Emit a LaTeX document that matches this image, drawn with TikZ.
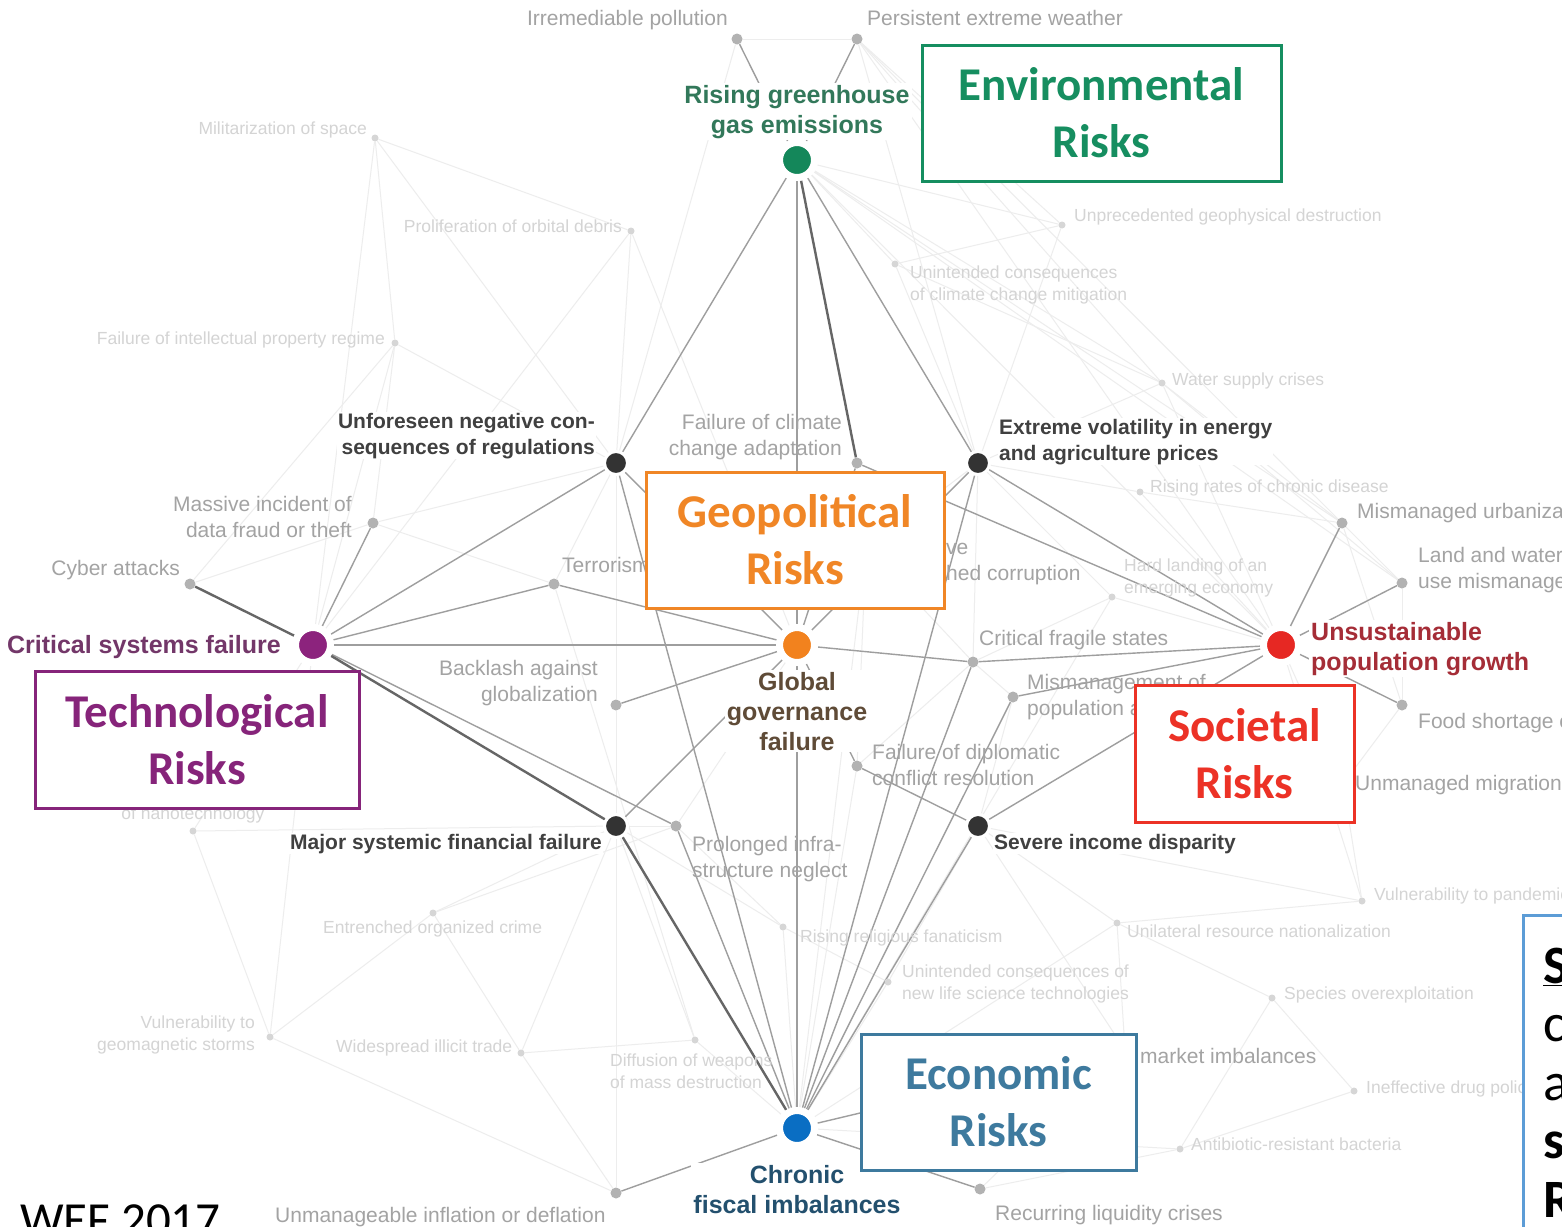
\documentclass[tikz,border=0pt]{standalone}
\usepackage{fontspec}
\setmainfont{Liberation Sans}
\newfontfamily\boxfont{Carlito}
\usetikzlibrary{backgrounds}
\definecolor{envgreen}{RGB}{22,142,96}
\definecolor{geoorange}{RGB}{240,134,38}
\definecolor{techpurple}{RGB}{134,36,122}
\definecolor{socred}{RGB}{236,50,38}
\definecolor{ecoblue}{RGB}{62,122,158}
\definecolor{noteblue}{RGB}{92,156,214}
\definecolor{ghgdot}{RGB}{20,135,90}
\definecolor{ggfdot}{RGB}{242,130,30}
\definecolor{csfdot}{RGB}{140,35,125}
\definecolor{upgdot}{RGB}{230,40,35}
\definecolor{cfidot}{RGB}{10,110,195}
\definecolor{ghgtext}{RGB}{50,120,90}
\definecolor{ggftext}{RGB}{95,75,55}
\definecolor{csftext}{RGB}{115,55,105}
\definecolor{upgtext}{RGB}{165,45,55}
\definecolor{cfitext}{RGB}{35,80,110}
\begin{document}
\begin{tikzpicture}[x=1pt,y=-1pt,
		bigdot/.style={circle,minimum size=35,inner sep=0,fill=#1,draw=white,line width=7},
		darkdot/.style={circle,minimum size=23,inner sep=0,fill=black!80,draw=white,line width=3},
		greydot/.style={circle,minimum size=11,inner sep=0,fill=black!30},
		faintdot/.style={circle,minimum size=7,inner sep=0,fill=black!16},
		mainlbl/.style={font=\fontsize{25}{30}\selectfont\bfseries,text=#1,fill=white,inner sep=2,align=center},
		darklbl/.style={font=\fontsize{21}{26}\selectfont\bfseries,text=black!75,fill=white,inner sep=1},
		greylbl/.style={font=\fontsize{21}{25.5}\selectfont,text=black!36,inner sep=0},
		faintlbl/.style={font=\fontsize{17.5}{22}\selectfont,text=black!17,inner sep=0},
		riskbox/.style={draw=#1,text=#1,line width=3,fill=white,inner sep=0,align=center,
			font=\boxfont\bfseries\fontsize{47}{57}\selectfont},
		edge/.style={draw=black!38,line width=1.4},
		heavy/.style={draw=black!60,line width=2.4},
		faint/.style={draw=black!7,line width=1}]
	\useasboundingbox (0,0) rectangle (1562,1226);
	\clip (0,0) rectangle (1562,1226);

	% labels (base = last line)
	\node[mainlbl=ghgtext,anchor=base] (ghgl) at (797,133) {Rising greenhouse\\gas emissions};
	\node[mainlbl=csftext,anchor=base east] (csfl) at (283,653) {Critical systems failure};
	\node[mainlbl=ggftext,anchor=base] (ggfl) at (797,750) {Global\\governance\\failure};
	\node[mainlbl=upgtext,anchor=base west,align=left] (upgl) at (1309,670) {Unsustainable\\population growth};
	\node[mainlbl=cfitext,anchor=base] (cfil) at (797,1213) {Chronic\\fiscal imbalances};

	\node[darklbl,anchor=base east,align=right] (unfl) at (596,454) {Unforeseen negative con-\\sequences of regulations};
	\node[darklbl,anchor=base west,align=left] (evoll) at (998,460) {Extreme volatility in energy\\and agriculture prices};
	\node[darklbl,anchor=base east] (msfl) at (603,849) {Major systemic financial failure};
	\node[darklbl,anchor=base west] (sidl) at (993,849) {Severe income disparity};

	\node[greylbl,anchor=base east] (irrl) at (728,25) {Irremediable pollution};
	\node[greylbl,anchor=base west] (pewl) at (867,25) {Persistent extreme weather};
	\node[greylbl,anchor=base east,align=right] (fcal) at (842,455) {Failure of climate\\change adaptation};
	\node[greylbl,anchor=base east,align=right] (mdfl) at (352,537) {Massive incident of\\data fraud or theft};
	\node[greylbl,anchor=base east] (cybl) at (180,575) {Cyber attacks};
	\node[greylbl,anchor=base west] (terl) at (562,572) {Terrorism};
	\node[greylbl,anchor=base east,align=right] (bagl) at (598,701) {Backlash against\\globalization};
	\node[greylbl,anchor=base west] (cfsl) at (979,645) {Critical fragile states};
	\node[greylbl,anchor=base west,align=left] (mpal) at (1027,715) {Mismanagement of\\population ageing};
	\node[greylbl,anchor=base west,align=left] (fdcl) at (872,785) {Failure of diplomatic\\conflict resolution};
	\node[greylbl,anchor=base west,align=left] (pinl) at (692,877) {Prolonged infra-\\structure neglect};
	\node[greylbl,anchor=base west,align=left] (pecl) at (876,580) {Pervasive\\entrenched corruption};
	\node[greylbl,anchor=base west] (murl) at (1357,518) {Mismanaged urbanization};
	\node[greylbl,anchor=base west,align=left] (lwul) at (1418,588) {Land and water\\use mismanagement};
	\node[greylbl,anchor=base west] (fscl) at (1418,728) {Food shortage crises};
	\node[greylbl,anchor=base west] (umil) at (1355,790) {Unmanaged migration};
	\node[greylbl,anchor=base west] (uidl) at (275,1222) {Unmanageable inflation or deflation};
	\node[greylbl,anchor=base west] (rlcl) at (995,1220) {Recurring liquidity crises};
	\node[greylbl,anchor=base west] (lmil) at (1140,1063) {market imbalances};

	\node[faintlbl,anchor=base east] (mosl) at (367,134) {Militarization of space};
	\node[faintlbl,anchor=base east] (podl) at (622,232) {Proliferation of orbital debris};
	\node[faintlbl,anchor=base east] (fipl) at (385,344) {Failure of intellectual property regime};
	\node[faintlbl,anchor=base west] (ugdl) at (1074,221) {Unprecedented geophysical destruction};
	\node[faintlbl,anchor=base west,align=left] (ucml) at (910,300) {Unintended consequences\\of climate change mitigation};
	\node[faintlbl,anchor=base west] (wscl) at (1172,385) {Water supply crises};
	\node[faintlbl,anchor=base west] (rcdl) at (1150,492) {Rising rates of chronic disease};
	\node[faintlbl,anchor=base west,align=left] (hlel) at (1124,593) {Hard landing of an\\emerging economy};
	\node[faintlbl,anchor=base] (nanl) at (193,819) {of nanotechnology};
	\node[faintlbl,anchor=base west] (eocl) at (323,933) {Entrenched organized crime};
	\node[faintlbl,anchor=base east,align=right] (vgsl) at (255,1050) {Vulnerability to\\geomagnetic storms};
	\node[faintlbl,anchor=base west] (witl) at (336,1052) {Widespread illicit trade};
	\node[faintlbl,anchor=base west,align=left] (dwml) at (610,1088) {Diffusion of weapons\\of mass destruction};
	\node[faintlbl,anchor=base west] (rrfl) at (800,942) {Rising religious fanaticism};
	\node[faintlbl,anchor=base west,align=left] (ulsl) at (902,999) {Unintended consequences of\\new life science technologies};
	\node[faintlbl,anchor=base west] (urnl) at (1127,937) {Unilateral resource nationalization};
	\node[faintlbl,anchor=base west] (vtpl) at (1374,900) {Vulnerability to pandemics};
	\node[faintlbl,anchor=base west] (sovl) at (1284,999) {Species overexploitation};
	\node[faintlbl,anchor=base west] (idpl) at (1366,1093) {Ineffective drug policies};
	\node[faintlbl,anchor=base west] (arbl) at (1191,1150) {Antibiotic-resistant bacteria};

	% dots
	\node[bigdot=ghgdot] (ghg) at (797,160) {};
	\node[bigdot=csfdot] (csf) at (313,645) {};
	\node[bigdot=ggfdot] (ggf) at (797,645) {};
	\node[bigdot=upgdot] (upg) at (1281,645) {};
	\node[bigdot=cfidot] (cfi) at (797,1128) {};
	\foreach \r/\x/\y in {unf/616/463,evol/978/463,msf/616/826,sid/978/826}
		\node[darkdot] (\r) at (\x,\y) {};
	\foreach \r/\x/\y in {irr/737/39,pew/857/39,fca/857/463,mdf/373/523,cyb/190/584,ter/554/584,
			bag/616/705,cfs/973/662,mpa/1013/697,fdc/857/766,pin/676/826,pec/866/548,mur/1342/523,
			lwu/1402/583,fsc/1402/705,umi/1343/784,uid/616/1193,rlc/980/1189,lmi/1125/1050}
		\node[greydot] (\r) at (\x,\y) {};
	\foreach \r/\x/\y in {mos/375/138,pod/631/231,fip/395/343,ugd/1062/225,ucm/895/264,wsc/1162/383,
			rcd/1140/492,hle/1112/597,nan/193/831,eoc/433/913,vgs/270/1037,wit/521/1053,dwm/695/1040,
			rrf/783/927,uls/888/982,urn/1117/923,vtp/1362/901,sov/1272/998,idp/1354/1091,arb/1180/1149}
		\node[faintdot] (\r) at (\x,\y) {};

	\begin{pgfonlayer}{background}
		\fill[white] (0,0) rectangle (1562,1226);
		\foreach \a/\b in {mos/pod,mos/fip,mos/unf,mos/csf,pod/unf,pod/ggf,pod/csf,fip/csf,fip/unf,fip/mdf,
				fip/cyb,irr/pew,irr/unf,pew/ugd,pew/evol,pew/wsc,pew/upg,pew/mur,ghg/ucm,ghg/wsc,ghg/mur,
				ghg/lwu,ghg/upg,ghg/ugd,ugd/ucm,ugd/evol,ucm/evol,ucm/wsc,wsc/mur,wsc/lwu,wsc/evol,wsc/upg,
				rcd/mur,rcd/evol,rcd/upg,hle/upg,hle/evol,hle/cfs,hle/cfi,mur/lwu,mur/fsc,lwu/fsc,fsc/umi,
				umi/upg,umi/vtp,vtp/sid,vtp/urn,vtp/upg,urn/sid,urn/cfi,urn/sov,sov/arb,sov/idp,idp/arb,
				arb/cfi,arb/rlc,rlc/lmi,lmi/sid,lmi/urn,uls/cfi,uls/sid,uls/rrf,rrf/pin,rrf/cfi,rrf/msf,
				dwm/cfi,dwm/ter,dwm/msf,dwm/wit,wit/eoc,wit/msf,wit/uid,eoc/msf,eoc/pin,eoc/vgs,vgs/csf,
				vgs/nan,nan/csf,nan/msf,uid/msf,uid/vgs,pec/cfi,pec/evol,pec/cfs,pec/fdc,mpa/sid,mpa/cfs,
				cfs/fdc,cfs/evol,fdc/cfi,bag/unf,bag/msf,ter/unf,ter/mdf,cyb/mdf,mdf/unf,pin/msf,pin/ggf}
			\draw[faint] (\a) -- (\b);
		\foreach \a/\b in {ghg/unf,ghg/ggf,ghg/evol,ghg/irr,ghg/pew,csf/mdf,csf/unf,csf/ter,csf/ggf,
				csf/pin,ggf/ter,ggf/bag,ggf/cfs,ggf/msf,ggf/fdc,ggf/cfi,ggf/unf,ggf/fca,ggf/evol,
				upg/mur,upg/lwu,upg/fsc,upg/evol,upg/cfs,upg/mpa,upg/sid,upg/fca,cfi/unf,cfi/pin,
				cfi/evol,cfi/cfs,cfi/mpa,cfi/sid,cfi/uid,cfi/rlc,cfi/lmi,sid/fdc}
			\draw[edge] (\a) -- (\b);
		\foreach \a/\b in {ghg/fca,csf/cyb,csf/msf,cfi/msf}
			\draw[heavy] (\a) -- (\b);
	\end{pgfonlayer}

	% risk category boxes
	\node[riskbox=envgreen,minimum width=359,minimum height=136] (envbox) at (1101.5,113) {Environmental\\Risks};
	\node[riskbox=geoorange,minimum width=298,minimum height=136] (geobox) at (795,540) {Geopolitical\\Risks};
	\node[riskbox=techpurple,minimum width=324,minimum height=137] (techbox) at (197,739.5) {Technological\\Risks};
	\node[riskbox=socred,minimum width=219,minimum height=137] (socbox) at (1244.5,753.5) {Societal\\Risks};
	\node[riskbox=ecoblue,minimum width=275,minimum height=136] (ecobox) at (998.5,1102) {Economic\\Risks};

	\node[draw=noteblue,line width=3,fill=white,anchor=north west,minimum width=90,minimum height=340] (notebox) at (1522,914) {};
	\node[anchor=base west,align=left,inner sep=0,font=\boxfont\fontsize{54}{58.5}\selectfont] (notetext) at (1543,1217)
		{\textbf{\underline{S}}\\c\\a\\\textbf{s}\\\textbf{R}};
	\node[anchor=base west,inner sep=0,font=\boxfont\fontsize{49}{59}\selectfont] (wef) at (20,1236) {WEF 2017};
\end{tikzpicture}
\end{document}
